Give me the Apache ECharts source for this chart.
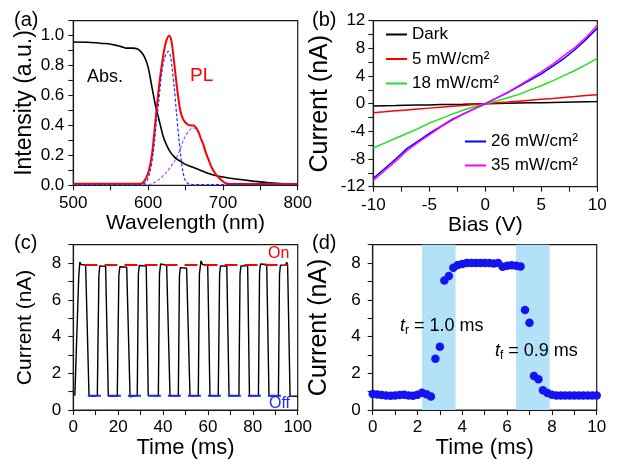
<!DOCTYPE html>
<html>
<head>
<meta charset="utf-8">
<script src="https://cdn.jsdelivr.net/npm/echarts@6/dist/echarts.min.js"></script>
<style>html,body{margin:0;padding:0;background:#fff}#c{width:620px;height:460px}</style>
</head>
<body>
<div id="c"></div>
<script>
// ---------- Panel (a): absorption & PL ----------
const absNm  = [500,520,540,550,560,565,570,580,585,590,595,600,605,610,615,620,625,630,635,640,645,650,660,670,680,690,700,720,740,760,780,800];
const absVal = [0.958,0.956,0.948,0.943,0.932,0.925,0.917,0.917,0.912,0.895,0.86,0.79,0.66,0.53,0.43,0.33,0.265,0.22,0.19,0.17,0.155,0.14,0.12,0.1,0.08,0.065,0.055,0.04,0.028,0.018,0.01,0.006];
const plNm   = [500,590,595,600,605,610,615,620,624,628,631,633,636,638,640,643,647,652,657,661,664,667,670,674,677,681,684,687,691,694,698,701,705,710,800];
const plVal  = [0.01,0.01,0.03,0.08,0.2,0.44,0.68,0.86,0.96,1.0,0.97,0.9,0.77,0.68,0.6,0.5,0.44,0.41,0.4,0.4,0.385,0.36,0.32,0.27,0.22,0.17,0.13,0.1,0.07,0.055,0.035,0.022,0.012,0.008,0.008];
const g1Nm   = [500,590,597,602,607,611,614,618,622,627,630,632,635,638,641,644,647,650,654,660,800];
const g1Val  = [0.005,0.005,0.02,0.08,0.22,0.42,0.55,0.74,0.85,0.895,0.86,0.79,0.65,0.48,0.32,0.18,0.08,0.03,0.01,0.005,0.005];
const g2Nm   = [500,595,605,615,625,635,642,648,654,660,664,667,670,674,677,681,684,687,691,694,698,701,705,710,720,800];
const g2Val  = [0.005,0.005,0.01,0.04,0.09,0.16,0.23,0.31,0.36,0.385,0.375,0.355,0.32,0.27,0.22,0.17,0.13,0.1,0.07,0.05,0.033,0.02,0.012,0.008,0.005,0.005];

// ---------- Panel (b): I-V curves ----------
const biasV   = [-10,-9,-8,-7,-6,-5,-4,-3,-2,-1,0,1,2,3,4,5,6,7,8,9,10];
const ivDark  = [-0.33,-0.3,-0.27,-0.23,-0.2,-0.17,-0.13,-0.1,-0.07,-0.03,0,0.03,0.06,0.09,0.12,0.15,0.18,0.21,0.24,0.27,0.3];
const iv5     = [-1.3,-1.17,-1.03,-0.9,-0.77,-0.64,-0.51,-0.38,-0.25,-0.12,0,0.12,0.24,0.37,0.5,0.63,0.76,0.9,1.03,1.17,1.3];
const iv18    = [-6.4,-5.7,-5.0,-4.3,-3.6,-2.8,-2.2,-1.55,-0.95,-0.45,0,0.4,0.85,1.35,2.0,2.6,3.3,4.05,4.8,5.65,6.55];
const iv26    = [-10.8,-9.4,-8.0,-6.5,-5.4,-4.3,-3.3,-2.3,-1.5,-0.75,0,0.8,1.6,2.5,3.4,4.3,5.4,6.5,7.8,9.3,10.9];
const iv35    = [-11.1,-9.7,-8.3,-6.8,-5.6,-4.5,-3.4,-2.4,-1.55,-0.75,0,0.8,1.65,2.6,3.6,4.6,5.7,6.9,8.1,9.6,11.3];
const ivNames = ['Dark','5 mW/cm²','18 mW/cm²','26 mW/cm²','35 mW/cm²'];

// ---------- Panel (c): on/off switching ----------
const cTime = [0.7,1.5,2.4,2.9,3.5,5.5,7.0, 8.8,10.7,11.4,11.8,14.4,15.6, 17.5,19.6,20.3,20.7,23.8,25.3, 27.0,28.5,29.0,29.4,32.5,33.4, 35.5,37.9,38.4,38.9,39.6,41.6,43.1, 45.0,46.8,47.3,47.7,50.5,52.0, 54.0,55.7,56.2,56.9,57.6,59.9,60.9, 62.8,64.6,65.2,65.6,68.4,69.4, 71.5,73.8,74.3,74.7,76.4,76.9,77.7,78.5, 80.5,82.5,83.0,83.4,86.2,87.2, 89.5,91.4,91.9,92.3,94.6,95.1,95.5,96.6,100];
const cCur  = [0.78,0.78,7.2,8.05,7.92,7.88,0.78, 0.76,0.78,7.3,7.85,7.82,0.76, 0.76,0.76,7.3,7.8,7.78,0.72, 0.76,0.78,7.4,7.87,7.85,0.8, 0.79,0.78,7.4,7.95,7.9,7.88,0.78, 0.78,0.78,7.3,7.75,7.72,0.78, 0.78,0.78,7.4,8.12,7.92,7.88,0.78, 0.78,0.78,7.4,7.85,7.83,0.78, 0.78,0.78,7.4,7.85,7.86,7.95,7.85,0.76, 0.78,0.78,7.5,7.95,7.93,0.78, 0.78,0.78,7.4,7.88,7.9,8.05,7.9,0.76,0.75];
const onLevel = 7.9,  onSpan  = [5, 95.5];
const offLevel = 0.78, offSpan = [6.5, 93.5];

// ---------- Panel (d): rise/fall ----------
const dTime = [0,0.2,0.4,0.6,0.8,1.0,1.2,1.4,1.6,1.8,2.0,2.2,2.4,2.6,2.8,3.0,3.2,3.4,3.6,3.8,4.0,4.2,4.4,4.6,4.8,5.0,5.2,5.4,5.6,5.8,6.0,6.2,6.4,6.6,6.8,7.0,7.2,7.4,7.6,7.8,8.0,8.2,8.4,8.6,8.8,9.0,9.2,9.4,9.6,9.8,10.0];
const dCur  = [0.88,0.85,0.82,0.8,0.78,0.8,0.82,0.84,0.8,0.78,0.83,0.95,0.86,0.74,2.8,3.45,7.05,7.3,7.75,7.9,7.95,8.0,8.0,8.0,8.0,8.0,8.0,7.98,8.0,7.8,7.85,7.88,7.86,7.82,5.45,4.75,1.85,1.68,1.08,0.93,0.83,0.8,0.8,0.8,0.8,0.8,0.8,0.8,0.8,0.8,0.8];
const riseWindow = [2.2, 3.7];
const fallWindow = [6.4, 7.9];

// ---------- helpers ----------
const FONT = "'Liberation Sans', Arial, sans-serif";
const INK = '#1a1a1a';
const zip = (xs, ys) => xs.map((x, i) => [x, ys[i]]);
const isMult = (v, m) => Math.abs(v / m - Math.round(v / m)) < 1e-6;

function nameStyle(size) {
  return { fontFamily: FONT, fontSize: size, fontWeight: 'normal', color: '#000' };
}
function labelStyle(margin, formatter) {
  return { fontFamily: FONT, fontSize: 17, fontWeight: 'normal', color: '#000', margin, formatter };
}
function axisBase(gridIndex, o) {
  return Object.assign({
    gridIndex, type: 'value',
    axisLine: { show: true, onZero: false, lineStyle: { color: INK, width: 1.2 } },
    axisTick: { show: true, inside: false, length: 5, lineStyle: { color: INK, width: 1.1 } },
    splitLine: { show: false },
    nameLocation: 'middle'
  }, o);
}
function fmt(step, digits) {
  return v => isMult(v, step) ? (digits ? v.toFixed(digits) : String(Math.round(v))) : '';
}

const chart = echarts.init(document.getElementById('c'), null, { renderer: 'canvas' });

const option = {
  animation: false,
  backgroundColor: '#fff',
  grid: [
    { left: 73.3, top: 20.7, width: 224.4, height: 164.6, show: true, borderColor: INK, borderWidth: 1.2 },
    { left: 373.3, top: 20.7, width: 224, height: 166, show: true, borderColor: INK, borderWidth: 1.2 },
    { left: 73.3, top: 244.7, width: 224.4, height: 165.6, show: true, borderColor: INK, borderWidth: 1.2 },
    { left: 372.7, top: 244.7, width: 224, height: 165.6, show: true, borderColor: INK, borderWidth: 1.2 }
  ],
  xAxis: [
    axisBase(0, { min: 500, max: 800, interval: 50, name: 'Wavelength (nm)', nameGap: 25,
      nameTextStyle: nameStyle(21), axisLabel: labelStyle(10, fmt(100)) }),
    axisBase(1, { min: -10, max: 10, interval: 2.5, name: 'Bias (V)', nameGap: 25,
      nameTextStyle: nameStyle(21), axisLabel: labelStyle(10, fmt(5)) }),
    axisBase(2, { min: 0, max: 100, interval: 10, name: 'Time (ms)', nameGap: 24,
      nameTextStyle: nameStyle(22), axisLabel: labelStyle(9, fmt(20)) }),
    axisBase(3, { min: 0, max: 10, interval: 1, name: 'Time (ms)', nameGap: 21,
      nameTextStyle: nameStyle(22), axisLabel: labelStyle(9, fmt(2)) })
  ],
  yAxis: [
    axisBase(0, { min: 0, max: 1.1, interval: 0.1, name: 'Intensity (a.u.)', nameGap: 37,
      nameTextStyle: nameStyle(23), axisLabel: labelStyle(9, fmt(0.2, 1)) }),
    axisBase(1, { min: -12, max: 12, interval: 2, name: 'Current (nA)', nameGap: 41,
      nameTextStyle: nameStyle(25), axisLabel: labelStyle(8, fmt(4)) }),
    axisBase(2, { min: 0, max: 9, interval: 1, name: 'Current (nA)', nameGap: 38,
      nameTextStyle: nameStyle(21), axisLabel: labelStyle(12, fmt(2)) }),
    axisBase(3, { min: 0, max: 9, interval: 1, name: 'Current (nA)', nameGap: 41,
      nameTextStyle: nameStyle(25), axisLabel: labelStyle(12, fmt(2)) })
  ],
  legend: [
    { data: ivNames.slice(0, 3), orient: 'vertical', left: 381, top: 20, icon: 'rect',
      itemWidth: 21, itemHeight: 2, itemGap: 5.5,
      textStyle: { fontFamily: FONT, fontSize: 17, color: '#000', lineHeight: 19 } },
    { data: ivNames.slice(3), orient: 'vertical', left: 460, top: 127, icon: 'rect',
      itemWidth: 21, itemHeight: 2, itemGap: 5,
      textStyle: { fontFamily: FONT, fontSize: 17, color: '#000', lineHeight: 19 } }
  ],
  series: [
    // (a)
    { type: 'line', xAxisIndex: 0, yAxisIndex: 0, data: zip(absNm, absVal), symbol: 'none', smooth: 0.3,
      lineStyle: { color: '#000', width: 1.6 } },
    { type: 'line', xAxisIndex: 0, yAxisIndex: 0, data: zip(g2Nm, g2Val), symbol: 'none', smooth: 0.3,
      lineStyle: { color: '#a040ff', width: 1.1, type: [3, 2] } },
    { type: 'line', xAxisIndex: 0, yAxisIndex: 0, data: zip(plNm, plVal), symbol: 'none', smooth: 0.3,
      lineStyle: { color: '#ff0000', width: 2 } },
    { type: 'line', xAxisIndex: 0, yAxisIndex: 0, data: zip(g1Nm, g1Val), symbol: 'none', smooth: 0.3,
      lineStyle: { color: '#1f2fff', width: 1.2, type: [3, 2] } },
    // (b)
    { name: ivNames[0], type: 'line', xAxisIndex: 1, yAxisIndex: 1, data: zip(biasV, ivDark), symbol: 'none',
      lineStyle: { color: '#000', width: 1.5 }, itemStyle: { color: '#000' } },
    { name: ivNames[1], type: 'line', xAxisIndex: 1, yAxisIndex: 1, data: zip(biasV, iv5), symbol: 'none',
      lineStyle: { color: '#ff0000', width: 1.5 }, itemStyle: { color: '#ff0000' } },
    { name: ivNames[2], type: 'line', xAxisIndex: 1, yAxisIndex: 1, data: zip(biasV, iv18), symbol: 'none',
      lineStyle: { color: '#22e022', width: 1.5 }, itemStyle: { color: '#22e022' } },
    { name: ivNames[3], type: 'line', xAxisIndex: 1, yAxisIndex: 1, data: zip(biasV, iv26), symbol: 'none',
      lineStyle: { color: '#0000ff', width: 1.5 }, itemStyle: { color: '#0000ff' } },
    { name: ivNames[4], type: 'line', xAxisIndex: 1, yAxisIndex: 1, data: zip(biasV, iv35), symbol: 'none',
      lineStyle: { color: '#ff00ff', width: 1.5 }, itemStyle: { color: '#ff00ff' } },
    // (c)
    { type: 'line', xAxisIndex: 2, yAxisIndex: 2, data: zip(cTime, cCur), symbol: 'none',
      lineStyle: { color: '#000', width: 1.4 } },
    { type: 'line', xAxisIndex: 2, yAxisIndex: 2, data: onSpan.map(t => [t, onLevel]), symbol: 'none',
      lineStyle: { color: '#ff0000', width: 2, type: [13, 7] } },
    { type: 'line', xAxisIndex: 2, yAxisIndex: 2, data: offSpan.map(t => [t, offLevel]), symbol: 'none',
      lineStyle: { color: '#1a2cff', width: 2, type: [13, 7] } },
    // (d)
    { type: 'scatter', xAxisIndex: 3, yAxisIndex: 3, data: zip(dTime, dCur), symbol: 'circle', symbolSize: 8.5,
      itemStyle: { color: '#1414f0', opacity: 1 },
      markArea: { silent: true, itemStyle: { color: '#b3e2f8' },
        data: [[{ xAxis: riseWindow[0] }, { xAxis: riseWindow[1] }], [{ xAxis: fallWindow[0] }, { xAxis: fallWindow[1] }]] } }
  ],
  graphic: [
    { type: 'text', x: 14, y: 20, style: { text: '(a)', font: '20px ' + FONT, fill: '#000', verticalAlign: 'middle' } },
    { type: 'text', x: 312, y: 20, style: { text: '(b)', font: '20px ' + FONT, fill: '#000', verticalAlign: 'middle' } },
    { type: 'text', x: 14, y: 243, style: { text: '(c)', font: '20px ' + FONT, fill: '#000', verticalAlign: 'middle' } },
    { type: 'text', x: 312, y: 243, style: { text: '(d)', font: '20px ' + FONT, fill: '#000', verticalAlign: 'middle' } },
    { type: 'text', x: 87, y: 77, style: { text: 'Abs.', font: '18px ' + FONT, fill: '#000', verticalAlign: 'middle' } },
    { type: 'text', x: 190, y: 76, style: { text: 'PL', font: '19px ' + FONT, fill: '#ff0000', verticalAlign: 'middle' } },
    { type: 'text', x: 268, y: 254, style: { text: 'On', font: '16px ' + FONT, fill: '#ff0000', verticalAlign: 'middle' } },
    { type: 'text', x: 269, y: 404, style: { text: 'Off', font: '16px ' + FONT, fill: '#1a2cff', verticalAlign: 'middle' } },
    { type: 'text', x: 400, y: 326, z: 100, style: { text: '{i|t}{s|r}{n| = 1.0 ms}', verticalAlign: 'middle', fill: '#000',
      rich: { i: { fontFamily: FONT, fontSize: 18, fontStyle: 'italic', lineHeight: 22, verticalAlign: 'middle' },
              s: { fontFamily: FONT, fontSize: 12, lineHeight: 12, verticalAlign: 'bottom' },
              n: { fontFamily: FONT, fontSize: 18, lineHeight: 22, verticalAlign: 'middle' } } } },
    { type: 'text', x: 495, y: 351, z: 100, style: { text: '{i|t}{s|f}{n| = 0.9 ms}', verticalAlign: 'middle', fill: '#000',
      rich: { i: { fontFamily: FONT, fontSize: 18, fontStyle: 'italic', lineHeight: 22, verticalAlign: 'middle' },
              s: { fontFamily: FONT, fontSize: 12, lineHeight: 12, verticalAlign: 'bottom' },
              n: { fontFamily: FONT, fontSize: 18, lineHeight: 22, verticalAlign: 'middle' } } } }
  ]
};
chart.setOption(option);
</script>
</body>
</html>
